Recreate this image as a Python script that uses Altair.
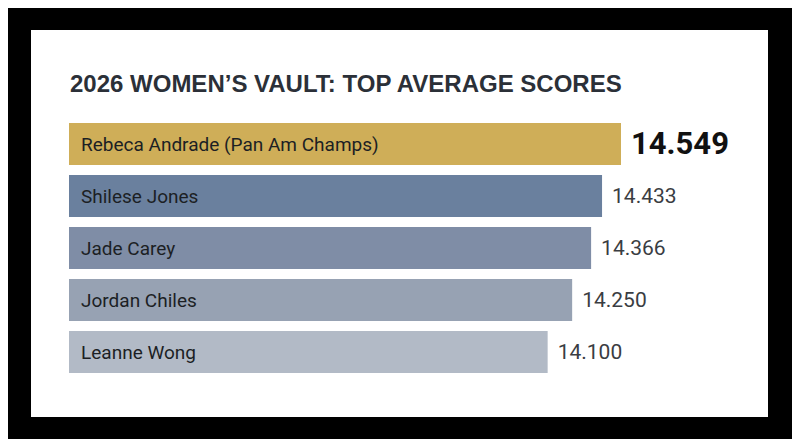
import altair as alt
import pandas as pd

names = ["Rebeca Andrade (Pan Am Champs)", "Shilese Jones", "Jade Carey", "Jordan Chiles", "Leanne Wong"]
scores = [14.549, 14.433, 14.366, 14.250, 14.100]
labels = ["14.549", "14.433", "14.366", "14.250", "14.100"]
colors = ["#CFAE58", "#6A809E", "#7F8DA6", "#97A2B3", "#B2BAC6"]
highlight = [True, False, False, False, False]
title_text = "2026 WOMEN\u2019S VAULT: TOP AVERAGE SCORES"

df = pd.DataFrame({"name": names, "score": scores, "label": labels,
                   "color": colors, "top": highlight})

BASE = 11.17

y_enc = alt.Y("name:N", sort=names, axis=None,
              scale=alt.Scale(range=[88, 348], paddingInner=0.19, paddingOuter=0.095))
x_scale = alt.Scale(domain=[BASE, 14.549], range=[38, 590], zero=False, nice=False)

bars = alt.Chart(df).mark_bar(cornerRadius=0).encode(
    y=y_enc,
    x=alt.X("score:Q", scale=x_scale, axis=None),
    x2=alt.datum(BASE),
    color=alt.Color("color:N", scale=None, legend=None),
)

names_txt = alt.Chart(df).mark_text(align="left", baseline="middle", dx=12, dy=1,
                                    font="Roboto", fontSize=19,
                                    color="#1c1f24").encode(
    y=y_enc,
    x=alt.datum(BASE),
    text="name:N",
)

vals_plain = alt.Chart(df).transform_filter("!datum.top").mark_text(
    align="left", baseline="middle", dx=10, dy=1, font="Roboto",
    fontSize=21, color="#3a3d42").encode(
    y=y_enc,
    x=alt.X("score:Q", scale=x_scale),
    text="label:N",
)

vals_top = alt.Chart(df).transform_filter("datum.top").mark_text(
    align="left", baseline="middle", dx=10, dy=1, font="Roboto", fontSize=31,
    fontWeight="bold", color="#111111").encode(
    y=y_enc,
    x=alt.X("score:Q", scale=x_scale),
    text="label:N",
)

chart = alt.layer(bars, names_txt, vals_plain, vals_top).properties(
    width=737, height=387,
    padding={"left": 23, "top": 22, "right": 24, "bottom": 22},
    autosize=alt.AutoSizeParams(type="none"),
    background="#000000",
    title=alt.TitleParams(text=title_text, anchor="start", frame="group", orient="top",
                          offset=0, baseline="alphabetic", dx=39, dy=86,
                          font="Liberation Sans", fontSize=24, fontWeight="bold",
                          color="#2B3038"),
).configure_view(fill="#ffffff", strokeWidth=0)

chart.save("out.html", embed_options={"renderer": "svg", "actions": False})
